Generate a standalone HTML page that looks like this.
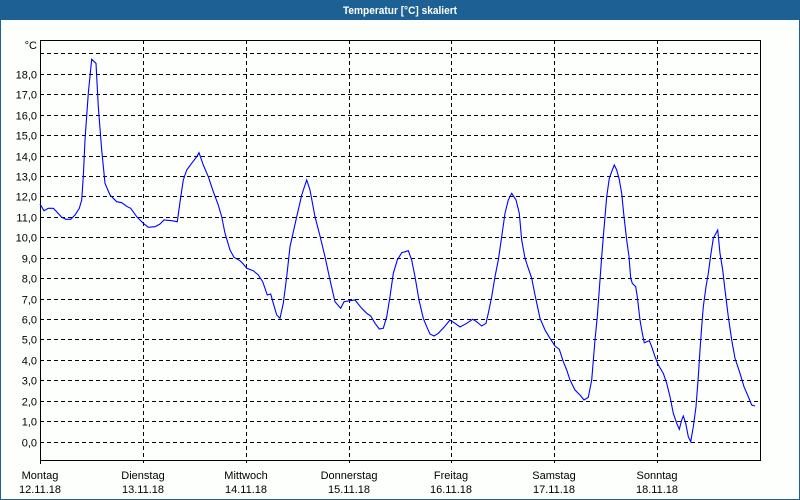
<!DOCTYPE html>
<html><head><meta charset="utf-8"><style>
html,body{margin:0;padding:0;background:#fff;}
svg{display:block;}
text{font-family:"Liberation Sans",sans-serif;font-size:11px;fill:#000;}
</style></head><body>
<svg width="800" height="500" viewBox="0 0 800 500" xmlns="http://www.w3.org/2000/svg">
<rect x="0" y="0" width="800" height="500" fill="#1d6194"/>
<rect x="1" y="20" width="798" height="479" fill="#fdfffd"/>
<text x="400" y="14" text-anchor="middle" textLength="114" lengthAdjust="spacingAndGlyphs" style="font-weight:bold;fill:#fff;font-size:11px">Temperatur [°C] skaliert</text>
<g stroke="#000" stroke-width="1" stroke-dasharray="4 3" shape-rendering="crispEdges" fill="none">
<path d="M40 442.5H760M40 421.5H760M40 401.5H760M40 380.5H760M40 360.5H760M40 339.5H760M40 319.5H760M40 299.5H760M40 278.5H760M40 258.5H760M40 237.5H760M40 217.5H760M40 196.5H760M40 176.5H760M40 156.5H760M40 135.5H760M40 115.5H760M40 94.5H760M40 74.5H760M40 53.5H760"/>
<path d="M143.5 40V463M246.5 40V463M349.5 40V463M451.5 40V463M554.5 40V463M657.5 40V463"/>
</g>
<g stroke="#000" stroke-width="1" shape-rendering="crispEdges" fill="none">
<rect x="40.5" y="40.5" width="720" height="420"/>
<path d="M40.5 460V464"/>
</g>
<polyline fill="none" stroke="#0000ff" stroke-width="1.1" points="40,204 44,210.7 48.3,208.3 53.3,208.3 56.7,211.7 61.7,217.3 66,219.3 70.7,219.3 75,215 79.3,208.3 81.7,200 83.3,176.7 85,140 88.3,93.3 91.7,59.3 96,63.3 98.3,106.7 101.7,150 105,183.3 110,195 116.7,201.7 121.7,202.7 127.3,206.7 130.7,208.3 136.7,216.7 143.3,223.3 148.3,227.3 155,226.7 160,224 164,220 171.7,220.7 177.3,221.7 180,202 183.3,180 186.7,170 191.7,163.3 196.7,156.7 199,152.7 203.3,165 208.3,176.7 213.3,191.7 218.3,205 221.7,216.7 225,233.3 230,250 234,257.3 240,260.7 243.3,264 246.7,268.3 253.3,270.7 258.3,275 262.7,281.7 267.3,295 270.7,294 273.3,303.3 276.7,315 280,318.3 283.3,303.3 286.7,276.7 290,246.7 296.7,216.7 301.7,195 306.7,180 310,190 315,216.7 320,236 325,256.7 330,280 335,301.7 340.7,308.3 344,301.7 350,300.7 355,300 361.7,308.3 366.7,313.3 370.7,316 375,323.3 379.3,329 383.3,328.3 386.7,316.7 390,296.7 393.3,273.3 397.3,260 401.7,252.7 408.3,250.7 411.7,260 415,276.7 419,300 423.3,318.3 426.7,326.7 430,334 434,336 438.3,333.3 444,327.3 450,320 455,323.3 460,327 466.7,323.3 472.7,319.3 476.7,321.7 481.7,326 486,323.3 488.3,313.3 491.7,296.7 495,276.7 498.3,260 501.7,236.7 505,213.3 508.3,200 511.7,193.3 516,200 519.3,213.3 521.7,240 525,258.3 528.3,268.3 531.7,278.3 535,295 540,318.3 545,330 550,338.3 555,346 559.3,349.3 563.3,361.7 566.7,370 570,380 575,390 580,395 584,400 588.3,397.3 591.7,380 595,340 597.3,316.7 600,280 601.7,256.7 603.3,236.7 605,216.7 606.7,196.7 609.3,178.3 612.3,170 614.3,165 616.7,170 619,178.3 621.7,193.3 624,216.7 626.7,240 629,256.7 630.7,278.3 632.3,283.3 635.7,286.7 637.3,296.7 640,320 642.3,333.3 644.3,342.7 646.7,341.7 649.3,340.7 651.7,346.7 655,356.7 658.3,365 663.3,373.3 666.7,383.3 670,396.7 673.3,413.3 676.7,423.3 679.3,429.3 681.7,420 683.3,416 685.7,423.3 688.3,436.7 690.7,441.7 693.3,426.7 696,406.7 698.3,376.7 700,350 701.7,326.7 703.3,306.7 706,286.7 708.3,273.3 711,253.3 713.3,238.3 716,233.3 717.7,230 720,253.3 722.7,270 725,290 728.3,316.7 731.7,340 735,358.3 740,373.3 744,386.7 748.3,396.7 751.7,405 755,406"/>
<g text-anchor="end">
<text x="37" y="49">°C</text>
<text x="37" y="446.5">0,0</text>
<text x="37" y="425.5">1,0</text>
<text x="37" y="405.5">2,0</text>
<text x="37" y="384.5">3,0</text>
<text x="37" y="364.5">4,0</text>
<text x="37" y="343.5">5,0</text>
<text x="37" y="323.5">6,0</text>
<text x="37" y="303.5">7,0</text>
<text x="37" y="282.5">8,0</text>
<text x="37" y="262.5">9,0</text>
<text x="37" y="241.5">10,0</text>
<text x="37" y="221.5">11,0</text>
<text x="37" y="200.5">12,0</text>
<text x="37" y="180.5">13,0</text>
<text x="37" y="160.5">14,0</text>
<text x="37" y="139.5">15,0</text>
<text x="37" y="119.5">16,0</text>
<text x="37" y="98.5">17,0</text>
<text x="37" y="78.5">18,0</text>
</g>
<g text-anchor="middle">
<text x="40" y="479">Montag</text><text x="40" y="493">12.11.18</text>
<text x="143" y="479">Dienstag</text><text x="143" y="493">13.11.18</text>
<text x="246" y="479">Mittwoch</text><text x="246" y="493">14.11.18</text>
<text x="349" y="479">Donnerstag</text><text x="349" y="493">15.11.18</text>
<text x="451" y="479">Freitag</text><text x="451" y="493">16.11.18</text>
<text x="554" y="479">Samstag</text><text x="554" y="493">17.11.18</text>
<text x="657" y="479">Sonntag</text><text x="657" y="493">18.11.18</text>
</g>
</svg>
</body></html>
